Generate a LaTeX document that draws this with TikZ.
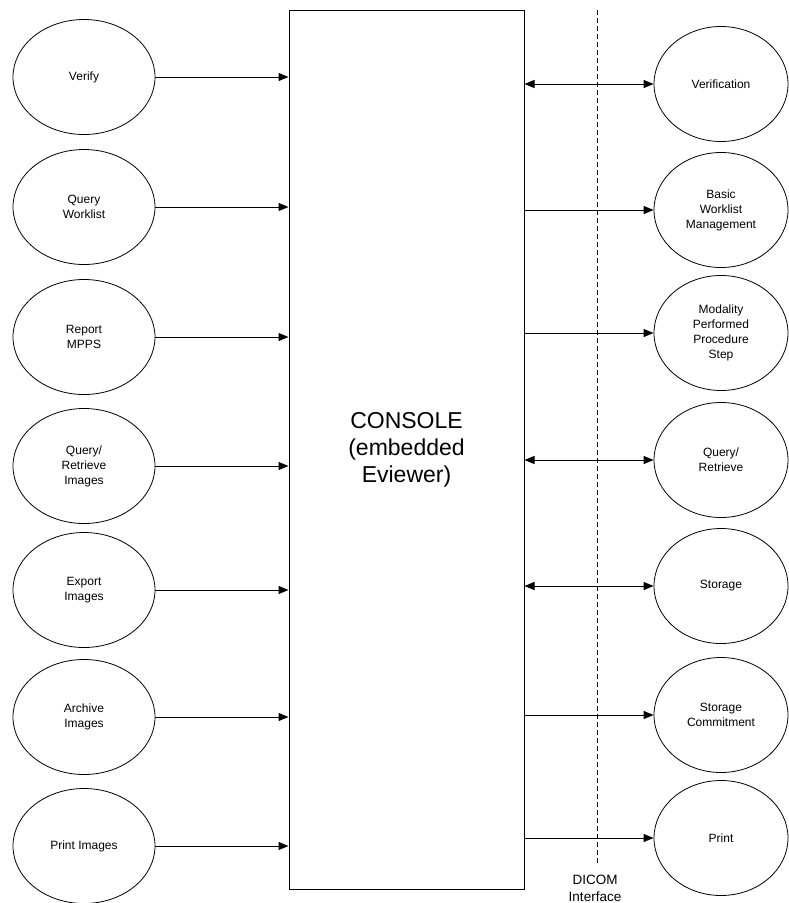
\documentclass[tikz,border=0pt]{standalone}
\usepackage{fontspec}
\setmainfont{Liberation Sans}
\usepackage{tikz}
\usetikzlibrary{shapes,arrows.meta}

\tikzset{
    usecase/.style={draw=black, ellipse, line width=0.8pt, inner sep=0pt,
        minimum width=142pt, minimum height=115pt, align=center,
        font=\fontsize{12}{15}\selectfont},
    dicomcase/.style={usecase, minimum width=134pt},
    link/.style={line width=1pt, -{Triangle[length=10pt,width=8pt]}},
    duplex/.style={line width=1pt, {Triangle[length=10pt,width=8pt]}-{Triangle[length=10pt,width=8pt]}}
}

\begin{document}
\begin{tikzpicture}[x=1pt, y=-1pt]
    \useasboundingbox (0,0) rectangle (789,903);

    % application entities
    \node[draw=black, line width=1pt, minimum width=235pt, minimum height=879pt, inner sep=0pt,
          align=center, font=\fontsize{23}{27}\selectfont] at (406.5,449.5) (console) {CONSOLE\\(embedded\\Eviewer)};

    \node[usecase] at (84,77) (verify) {Verify};
    \node[usecase] at (84,207) (qworklist) {Query\\Worklist};
    \node[usecase] at (84,337) (mpps) {Report\\MPPS};
    \node[usecase] at (84,466) (qrimages) {Query/\\Retrieve\\Images};
    \node[usecase] at (84,590) (export) {Export\\Images};
    \node[usecase] at (84,717) (archive) {Archive\\Images};
    \node[usecase] at (84,846) (printimg) {Print Images};

    \node[dicomcase] at (721,84) (verification) {Verification};
    \node[dicomcase] at (721,210) (bwm) {Basic\\Worklist\\Management};
    \node[dicomcase] at (721,333) (mppsstep) {Modality\\Performed\\Procedure\\Step};
    \node[dicomcase] at (721,460) (qr) {Query/\\Retrieve};
    \node[dicomcase] at (721,586) (storage) {Storage};
    \node[dicomcase] at (721,715) (commit) {Storage\\Commitment};
    \node[dicomcase] at (721,838) (print) {Print};

    % DICOM interface
    \draw[line width=0.8pt, dash pattern=on 5pt off 3pt] (597,10) -- (597,863);
    \node[align=center, font=\fontsize{13.5}{17}\selectfont] at (595,888) (dicom) {DICOM\\Interface};

    \draw[link] (verify.east) -- (verify.east -| console.west);
    \draw[link] (qworklist.east) -- (qworklist.east -| console.west);
    \draw[link] (mpps.east) -- (mpps.east -| console.west);
    \draw[link] (qrimages.east) -- (qrimages.east -| console.west);
    \draw[link] (export.east) -- (export.east -| console.west);
    \draw[link] (archive.east) -- (archive.east -| console.west);
    \draw[link] (printimg.east) -- (printimg.east -| console.west);

    \draw[duplex] (verification.west -| console.east) -- (verification.west);
    \draw[link] (bwm.west -| console.east) -- (bwm.west);
    \draw[link] (mppsstep.west -| console.east) -- (mppsstep.west);
    \draw[duplex] (qr.west -| console.east) -- (qr.west);
    \draw[duplex] (storage.west -| console.east) -- (storage.west);
    \draw[link] (commit.west -| console.east) -- (commit.west);
    \draw[link] (print.west -| console.east) -- (print.west);

\end{tikzpicture}
\end{document}
